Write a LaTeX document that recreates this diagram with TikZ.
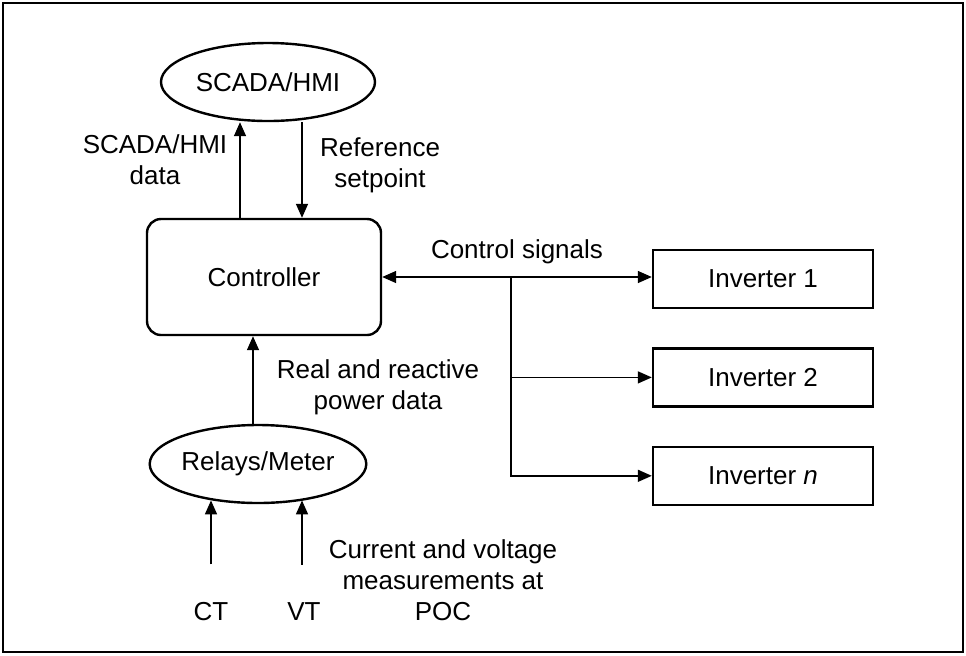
\documentclass[tikz,border=0pt]{standalone}
\usepackage{fontspec}
\setmainfont{Liberation Sans}
\usetikzlibrary{shapes.geometric, arrows.meta, positioning}

\begin{document}
\begin{tikzpicture}[
    x=0.5pt, y=-0.5pt,
    font=\fontsize{13}{15.5}\selectfont,
    node distance=19pt,
    bubble/.style={ellipse, draw, line width=1.2pt, minimum width=107pt, minimum height=39pt, inner sep=0pt},
    ctrlbox/.style={rectangle, draw, rounded corners=7pt, line width=1.2pt, minimum width=117pt, minimum height=58pt},
    invbox/.style={rectangle, draw, line width=1.2pt, minimum width=110pt, minimum height=29pt},
    lbl/.style={align=center, inner sep=1pt},
    arrow/.style={-{Triangle[length=7pt,width=6pt]}, line width=0.75pt},
    twoway/.style={{Triangle[length=7pt,width=6pt]}-{Triangle[length=7pt,width=6pt]}, line width=0.75pt}
]
\useasboundingbox (0,0) rectangle (966,655);
\draw[line width=1pt] (3,3) rectangle (963,652);

\node[bubble] (scada) at (268,82) {SCADA/HMI};
\node[ctrlbox] (ctrl) at (264,277) {Controller};
\node[bubble] (relay) at (258,464) {Relays/Meter};
\node[invbox] (inv1) at (763,279) {Inverter 1};
\node[invbox, below=of inv1] (inv2) {Inverter 2};
\node[invbox, below=of inv2] (invn) {Inverter \textit{n}};

\coordinate (up) at ([xshift=-14pt]scada.south);
\coordinate (down) at ([xshift=17pt]scada.south);
\draw[arrow] (up |- ctrl.north) -- (up);
\draw[arrow] (down) -- (down |- ctrl.north);
\node[lbl] (hmidata) at (155,160) {SCADA/HMI\\data};
\node[lbl] (setpoint) at (380,165) {Reference\\setpoint};

\coordinate (fork) at ([xshift=64.5pt]ctrl.east);
\draw[twoway] (ctrl.east) -- (ctrl.east -| inv1.west);
\draw[arrow] (fork) |- (inv2.west);
\draw[arrow] (fork) |- (invn.west);
\node[lbl] (ctrlsig) at (517,252) {Control signals};

\draw[arrow] (relay.north -| 253,0) -- (ctrl.south -| 253,0);
\node[lbl] (powerdata) at (378,387) {Real and reactive\\power data};

\node[lbl] (ct) at (211,612) {CT};
\node[lbl] (vt) at (304,612) {VT};
\draw[arrow] ([yshift=18pt]ct.north) -- (ct.north |- relay.218);
\draw[arrow] ([yshift=18pt]vt.north -| 302,0) -- (302,0 |- relay.322);
\node[lbl] (meas) at (443,580) {Current and voltage\\measurements at\\POC};
\end{tikzpicture}
\end{document}
